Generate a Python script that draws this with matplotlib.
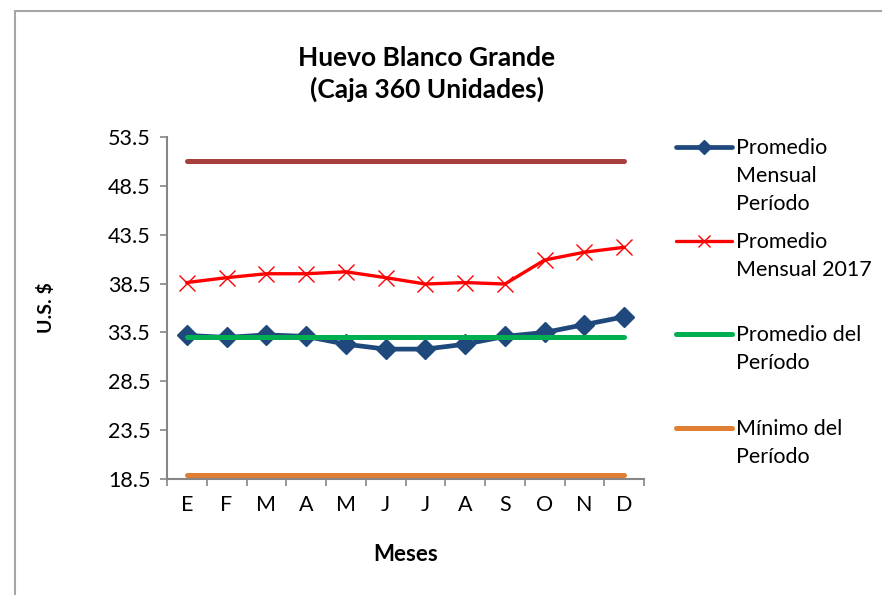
import matplotlib
matplotlib.use("Agg")
import matplotlib.pyplot as plt
from matplotlib.lines import Line2D
from matplotlib.patches import Rectangle

months = ["E", "F", "M", "A", "M", "J", "J", "A", "S", "O", "N", "D"]
prom_mensual_periodo = [33.2, 33.0, 33.25, 33.1, 32.3, 31.8, 31.8, 32.3, 33.1, 33.5, 34.3, 35.1]
prom_mensual_2017 = [38.6, 39.1, 39.5, 39.5, 39.7, 39.1, 38.45, 38.6, 38.45, 40.9, 41.7, 42.2]
prom_periodo = [33.0] * 12
minimo_periodo = [18.9] * 12
maximo_periodo = [51.0] * 12
yticks = [18.5, 23.5, 28.5, 33.5, 38.5, 43.5, 48.5, 53.5]

legend_labels = ["Promedio\nMensual\nPeríodo", "Promedio\nMensual 2017",
                 "Promedio del\nPeríodo", "Mínimo del\nPeríodo"]

FONT = "Lato"
plt.rcParams['font.family'] = [FONT, 'DejaVu Sans']

W, H = 882, 595
fig = plt.figure(figsize=(W / 100, H / 100), dpi=100)
fig.patch.set_facecolor("white")

# chart border
fig.patches.append(Rectangle((15 / W, -0.1), 2, 1.1 - 11 / H, transform=fig.transFigure,
                             fill=False, edgecolor="#A6A6A6", linewidth=1.5))

ax = fig.add_axes([167 / W, 1 - 479.3 / H, (644 - 167) / W, (479.3 - 136.7) / H])
x = list(range(len(months)))

c_blue = "#1F497D"
c_red = "#FF0000"
c_green = "#00B050"
c_orange = "#E07F33"
c_dark = "#A5403D"

ax.plot(x, maximo_periodo, color=c_dark, lw=3.6, solid_capstyle="round", zorder=2)
ax.plot(x, minimo_periodo, color=c_orange, lw=3.6, solid_capstyle="round", zorder=2)
ax.plot(x, prom_mensual_2017, color=c_red, lw=2.4, marker="x", markersize=11,
        markeredgewidth=1.0, zorder=3)
ax.plot(x, prom_mensual_periodo, color=c_blue, lw=3.4, marker="D", markersize=10.5,
        zorder=4)
ax.plot(x, prom_periodo, color=c_green, lw=3.6, solid_capstyle="round", zorder=5)

ax.set_xlim(-0.5, 11.5)
ax.set_ylim(18.5, 53.5)
ax.set_yticks(yticks)
ax.set_yticklabels([f"{v:.1f}" for v in yticks])
ax.set_xticks(x)
ax.set_xticklabels(months)
ax.set_xticks([i - 0.5 for i in range(13)], minor=True)
ax.tick_params(axis="x", which="major", length=0, pad=11, labelsize=15.5, colors="#000000")
ax.tick_params(axis="x", which="minor", length=5, width=1.2, color="#868686", direction="out")
ax.tick_params(axis="y", length=5, width=1.2, color="#868686", direction="out",
               labelsize=15.5, pad=7)
for lab in ax.get_xticklabels() + ax.get_yticklabels():
    lab.set_color("#000000")
for s in ["top", "right"]:
    ax.spines[s].set_visible(False)
for s in ["left", "bottom"]:
    ax.spines[s].set_color("#868686")
    ax.spines[s].set_linewidth(1.5)

ax.set_xlabel("Meses", fontsize=16, fontweight="bold", labelpad=21)
ax.set_ylabel("U.S. $", fontsize=14, fontweight="bold", labelpad=38)

fig.text(427 / W, 1 - 74 / H, "Huevo Blanco Grande\n(Caja 360 Unidades)", ha="center",
         va="center", fontsize=19, fontweight="bold", linespacing=1.35)

# legend drawn manually
handles = [
    dict(color=c_blue, lw=3.4, marker="D", ms=7),
    dict(color=c_red, lw=2.4, marker="x", ms=9, mew=1.0),
    dict(color=c_green, lw=3.6, marker=None, ms=0),
    dict(color=c_orange, lw=3.6, marker=None, ms=0),
]
y0 = 147
dy = 93.7
for i, (lab, h) in enumerate(zip(legend_labels, handles)):
    yy = 1 - (y0 + i * dy) / H
    fig.add_artist(Line2D([676 / W, 732 / W], [yy, yy], transform=fig.transFigure,
                          color=h["color"], lw=h["lw"], solid_capstyle="round"))
    if h["marker"]:
        fig.add_artist(Line2D([704 / W], [yy], transform=fig.transFigure, color=h["color"],
                              marker=h["marker"], markersize=h["ms"],
                              markeredgewidth=h.get("mew", 1.0), lw=0))
    fig.text(736 / W, yy + 9 / H, lab, ha="left", va="top", fontsize=15.5,
             linespacing=1.5, transform=fig.transFigure)

fig.savefig("out.png", dpi=100, facecolor="white")
